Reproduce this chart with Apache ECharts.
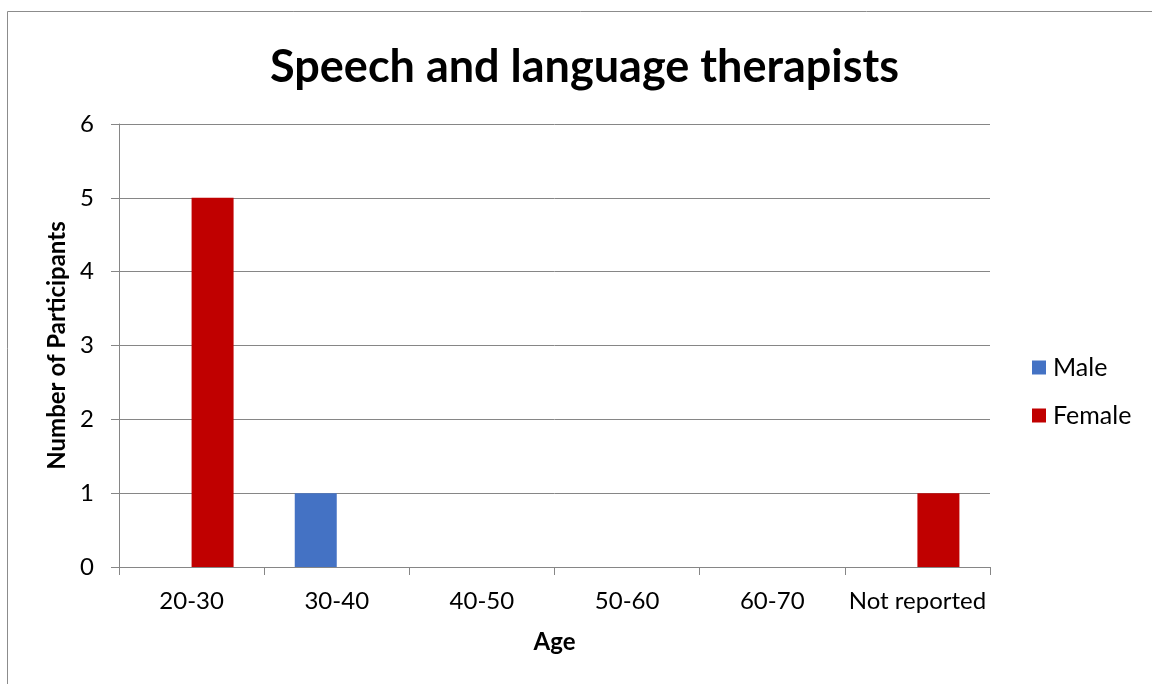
<!DOCTYPE html>
<html>
<head>
<meta charset="utf-8">
<script src="https://cdn.jsdelivr.net/npm/echarts@6/dist/echarts.min.js"></script>
<style>
  html, body { margin: 0; padding: 0; background: #fff; }
  #chart { width: 1152px; height: 684px; }
</style>
</head>
<body>
<div id="chart"></div>
<script>
// Age groups and participant counts per gender
const ageGroups = ['20-30', '30-40', '40-50', '50-60', '60-70', 'Not reported'];
const maleCounts = [0, 1, 0, 0, 0, 0];
const femaleCounts = [5, 0, 0, 0, 0, 1];
const yTicks = [0, 1, 2, 3, 4, 5, 6];

const FONT = 'Lato';
const chart = echarts.init(document.getElementById('chart'), null, { renderer: 'canvas' });

chart.setOption({
  backgroundColor: '#ffffff',
  animation: false,
  textStyle: { fontFamily: FONT, color: '#000' },
  graphic: [{
    type: 'rect',
    shape: { x: 7.5, y: 11.5, width: 1160, height: 700 },
    style: { fill: 'none', stroke: '#8c8c8c', lineWidth: 1 },
    silent: true
  }],
  title: {
    text: 'Speech and language therapists',
    left: 265,
    top: 40,
    textStyle: { fontFamily: FONT, fontSize: 45, fontWeight: 'bold', color: '#000' }
  },
  legend: {
    orient: 'vertical',
    left: 1032,
    top: 355,
    padding: 0,
    itemWidth: 14,
    itemHeight: 14,
    itemGap: 23,
    icon: 'rect',
    textStyle: { fontFamily: FONT, fontSize: 25, color: '#000', padding: [0, 0, 0, 2] },
    data: ['Male', 'Female']
  },
  grid: { left: 119, right: 162, top: 124, bottom: 117, containLabel: false },
  xAxis: {
    type: 'category',
    data: ageGroups,
    name: 'Age',
    nameLocation: 'middle',
    nameGap: 63,
    nameTextStyle: { fontFamily: FONT, fontSize: 24, fontWeight: 'bold', color: '#000' },
    axisLine: { show: true, lineStyle: { color: '#868686', width: 1 } },
    axisTick: { show: true, length: 8, alignWithLabel: false, lineStyle: { color: '#868686' } },
    axisLabel: { fontFamily: FONT, fontSize: 24, color: '#000', margin: 22, interval: 0 },
    splitLine: { show: false }
  },
  yAxis: {
    type: 'value',
    min: 0,
    max: yTicks[yTicks.length - 1],
    interval: 1,
    name: 'Number of Participants',
    nameLocation: 'middle',
    nameGap: 49,
    nameRotate: 90,
    nameTextStyle: { fontFamily: FONT, fontSize: 24, fontWeight: 'bold', color: '#000' },
    axisLine: { show: true, lineStyle: { color: '#868686', width: 1 } },
    axisTick: { show: true, length: 8, lineStyle: { color: '#868686' } },
    axisLabel: { fontFamily: FONT, fontSize: 24, color: '#000', margin: 25 },
    splitLine: { show: true, lineStyle: { color: '#868686', width: 1 } }
  },
  series: [
    {
      name: 'Male',
      type: 'bar',
      data: maleCounts,
      barWidth: 42,
      barGap: '0%',
      itemStyle: { color: '#4472C4' }
    },
    {
      name: 'Female',
      type: 'bar',
      data: femaleCounts,
      barWidth: 42,
      barGap: '0%',
      itemStyle: { color: '#C00000' }
    }
  ]
});
</script>
</body>
</html>
